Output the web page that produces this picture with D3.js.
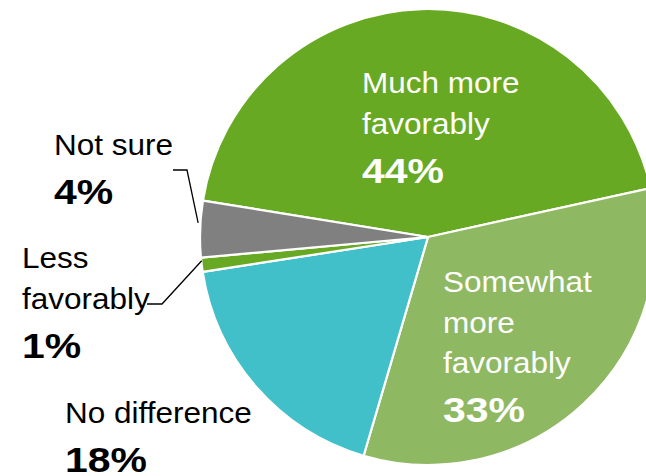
<!DOCTYPE html>
<html><head><meta charset="utf-8">
<script src="https://cdn.jsdelivr.net/npm/d3@7"></script>
<style>html,body{margin:0;padding:0;background:#fff;}svg{display:block;}</style>
</head><body>
<svg id="chart" width="646" height="476"></svg>
<script>
const categories = ["Much more favorably", "Somewhat more favorably", "No difference", "Less favorably", "Not sure"];
const values = [44, 33, 18, 1, 4];
const colors = ["#68a923", "#8fb862", "#42c0c9", "#68a923", "#808080"];
const labelLines = [["Much more", "favorably"], ["Somewhat", "more", "favorably"], ["No difference"], ["Less", "favorably"], ["Not sure"]];

const svg = d3.select("#chart");
const cx = 428, cy = 237, R = 228;
const startDeg = 77.6 - 158.4;
const pie = d3.pie().sort(null).value(d => d)
  .startAngle(startDeg * Math.PI / 180)
  .endAngle((startDeg + 360) * Math.PI / 180);
const arcs = pie(values);
const arc = d3.arc().innerRadius(0).outerRadius(R);
const g = svg.append("g").attr("transform", `translate(${cx},${cy})`);
g.selectAll("path").data(arcs).join("path")
  .attr("d", arc)
  .attr("fill", (d, i) => colors[i])
  .attr("stroke", "#fff").attr("stroke-width", 2.2).attr("stroke-linejoin", "round");

// label layout (positions of text blocks)
const layout = [
  {x: 362, y: 93, color: "#fff"},
  {x: 443, y: 292, color: "#fff"},
  {x: 65, y: 423, color: "#000"},
  {x: 22, y: 268, color: "#000"},
  {x: 54, y: 155, color: "#000"}
];
const lineGap = 40.5, pctGap = 49;
const font = "'Liberation Sans', Arial, sans-serif";
function addText(x, y, str, size, weight, color, sx) {
  svg.append("text")
    .attr("transform", `translate(${x},${y}) scale(${sx},1)`)
    .attr("fill", color).style("font-family", font)
    .style("font-size", size + "px").style("font-weight", weight)
    .text(str);
}
categories.forEach((c, i) => {
  const L = layout[i];
  labelLines[i].forEach((ln, k) => {
    addText(L.x, L.y + k * lineGap, ln, 30, "normal", L.color, 1.05);
  });
  const n = labelLines[i].length;
  addText(L.x, L.y + (n - 1) * lineGap + pctGap, values[i] + "%", 35, "bold", L.color, 1.17);
});

// leader lines
function edgePoint(d, rr) {
  const a = (d.startAngle + d.endAngle) / 2;
  return [cx + rr * Math.sin(a), cy - rr * Math.cos(a)];
}
const nsP = edgePoint(arcs[4], R + 2);
svg.append("path").attr("fill", "none").attr("stroke", "#000").attr("stroke-width", 1.3)
  .attr("d", `M173,170 L187,170 L${nsP[0]},${nsP[1] - 6}`);
const lfP = edgePoint(arcs[3], R);
svg.append("path").attr("fill", "none").attr("stroke", "#000").attr("stroke-width", 1.3)
  .attr("d", `M147,304 L162,304 L${lfP[0]},${lfP[1] - 4}`);
</script>
</body></html>
